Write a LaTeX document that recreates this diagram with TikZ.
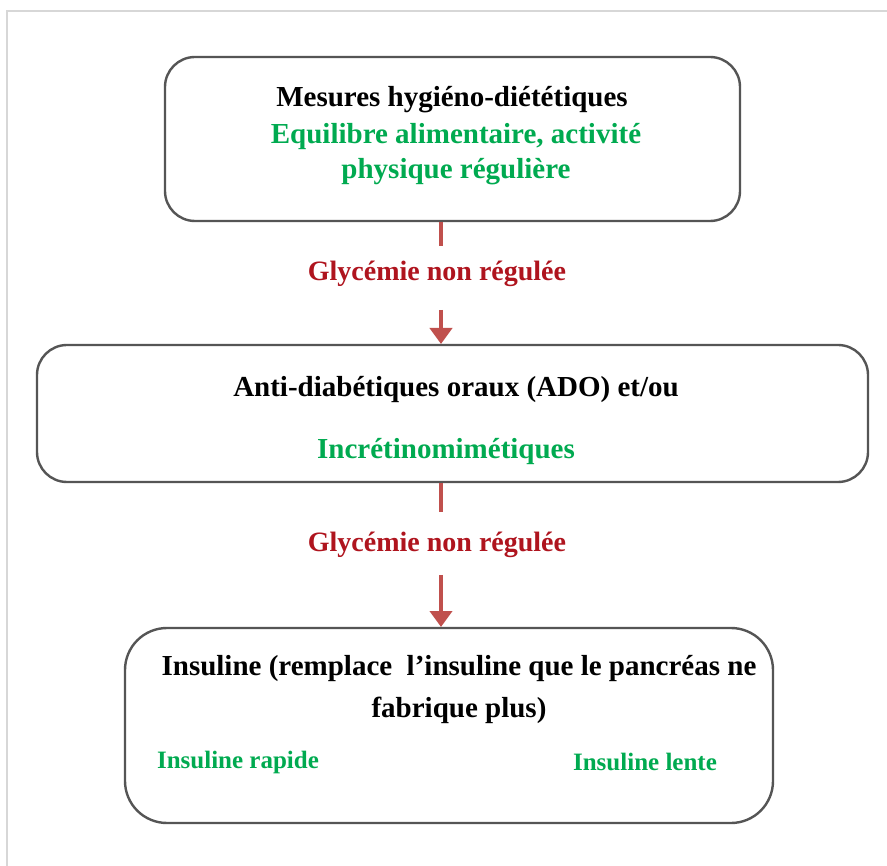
\documentclass[tikz,border=0pt]{standalone}
\usepackage{fontspec}
\setmainfont{Liberation Serif}
\usetikzlibrary{arrows.meta}
\definecolor{boxgray}{RGB}{85,85,85}
\definecolor{framegray}{RGB}{215,215,215}
\definecolor{txtgreen}{RGB}{0,170,80}
\definecolor{txtred}{RGB}{175,20,30}
\definecolor{arrowred}{RGB}{192,80,77}
\tikzset{
  stagebox/.style={draw=boxgray, line width=2.4pt, rounded corners=30pt, fill=white},
  headtext/.style={font=\fontsize{29}{35}\selectfont\bfseries, text=black, align=center, inner sep=0pt},
  greentext/.style={font=\fontsize{29}{35}\selectfont\bfseries, text=txtgreen, align=center, inner sep=0pt},
  smallgreen/.style={font=\fontsize{25}{30}\selectfont\bfseries, text=txtgreen, inner sep=0pt},
  condlabel/.style={font=\fontsize{28}{34}\selectfont\bfseries, text=txtred, inner sep=0pt},
  flowline/.style={draw=arrowred, line width=4pt},
  flowarrow/.style={draw=arrowred, line width=4pt, -{Triangle[length=16pt,width=22pt]}},
}
\begin{document}
\begin{tikzpicture}[x=1pt,y=-1pt]
\useasboundingbox (0,0) rectangle (887,866);
\fill[white] (0,0) rectangle (887,866);
% outer frame
\draw[framegray, line width=2pt] (7,880) -- (7,11) -- (900,11);
% boxes
\path[stagebox] (165,57) rectangle (740,221);
\path[stagebox] (37,345) rectangle (868,482);
\path[stagebox, rounded corners=42pt] (125,628) rectangle (773,823);
\coordinate (b1s) at (441,222);
\coordinate (b2n) at (441,344);
\coordinate (b2s) at (441,483);
\coordinate (b3n) at (441,627);
% texts box 1
\node[headtext] (t1) at (452,100) {Mesures hygiéno-diététiques};
\node[greentext] (t1g) at (456,154) {Equilibre alimentaire, activité\\physique régulière};
% labels
\node[condlabel] (l1) at (437,274) {Glycémie non régulée};
\node[condlabel] (l2) at (437,545) {Glycémie non régulée};
% texts box 2
\node[headtext] (t2) at (456,390) {Anti-diabétiques oraux (ADO) et/ou};
\node[greentext] (t2g) at (446,452) {Incrétinomimétiques};
% texts box 3
\node[headtext, font=\fontsize{29}{42}\selectfont\bfseries] (t3) at (459,690) {Insuline (remplace\ \ l’insuline que le pancréas ne\\fabrique plus)};
\node[smallgreen] (t3a) at (238,762) {Insuline rapide};
\node[smallgreen] (t3b) at (645,762) {Insuline lente};
% connectors
\coordinate (s1e) at (441,246);
\coordinate (a1s) at (441,310);
\coordinate (s2e) at (441,512);
\coordinate (a2s) at (441,575);
\draw[flowline] (b1s) -- (s1e);
\draw[flowarrow] (a1s) -- (b2n);
\draw[flowline] (b2s) -- (s2e);
\draw[flowarrow] (a2s) -- (b3n);
\end{tikzpicture}
\end{document}
